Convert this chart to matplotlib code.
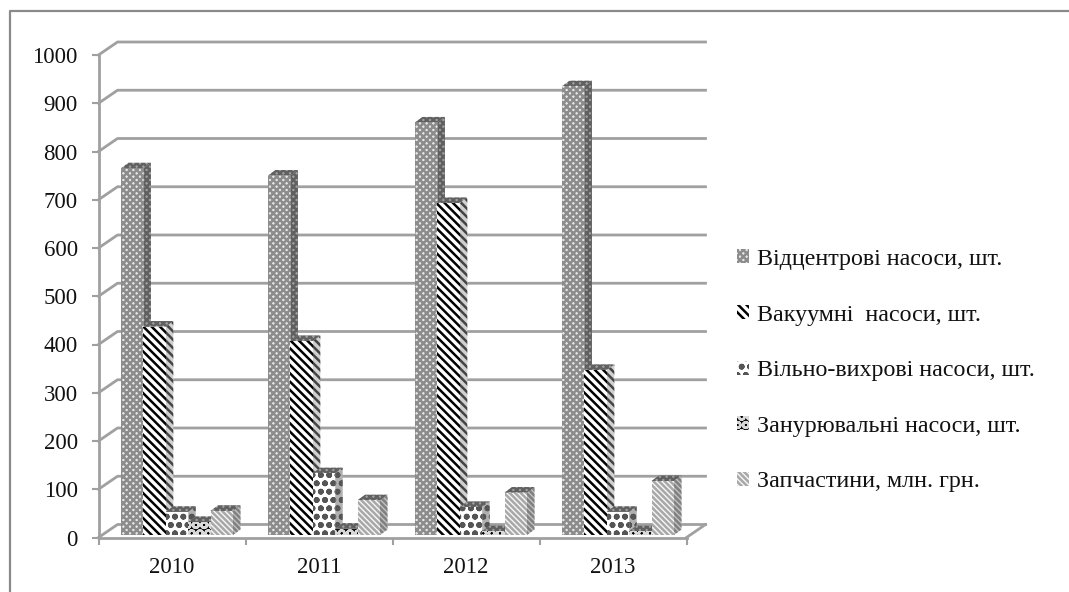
import numpy as np
import matplotlib
matplotlib.use('Agg')
import matplotlib.pyplot as plt
from matplotlib.lines import Line2D
from matplotlib.patches import Patch, Polygon

plt.rcParams['font.family'] = ['Liberation Serif', 'DejaVu Serif']
plt.rcParams['hatch.linewidth'] = 1.8

years = ['2010', '2011', '2012', '2013']
names = ['Відцентрові насоси, шт.', 'Вакуумні  насоси, шт.', 'Вільно-вихрові насоси, шт.',
         'Занурювальні насоси, шт.', 'Запчастини, млн. грн.']
vidcentrovi = [760, 745, 855, 930]
vakuumni = [432, 402, 688, 342]
vilno = [48, 128, 58, 48]
zanurni = [27, 13, 8, 8]
zapchastyny = [50, 72, 88, 112]
series = [vidcentrovi, vakuumni, vilno, zanurni, zapchastyny]

# face colour, hatch colour, hatch, side colour, side hatch colour
styles = [('#e8e8e8', '#8c8c8c', 'xxxxx', '#a0a0a0', '#606060'),
          ('white', 'black', '\\\\\\\\', '#d0d0d0', '#444444'),
          ('white', '#555555', 'oo', '#b0b0b0', '#555555'),
          ('#000000', '#d8d8d8', 'OO', '#3a3a3a', '#1c1c1c'),
          ('#f6f6f6', '#a8a8a8', '\\\\\\\\\\\\', '#c0c0c0', '#808080')]

fig = plt.figure(figsize=(10.69, 5.92), dpi=100)
ax = fig.add_axes([98.5/1069, 1-537.5/592, 588/1069, 482.5/592])
ax.set_xlim(0, 4)
ax.set_ylim(0, 1000)

# size of the 3d offset in data units
px_x = 4/588
px_y = 1000/482.5
wall_dx = 19*px_x
wall_dy = 13*px_y
grid_col = '#a0a0a0'

for v in range(0, 1001, 100):
    ax.plot([0, wall_dx, 4+wall_dx], [v, v+wall_dy, v+wall_dy], color=grid_col, lw=2, clip_on=False, zorder=1)
ax.plot([4, 4+wall_dx], [0, wall_dy], color=grid_col, lw=2, clip_on=False, zorder=1)

bar_w = 22.4*px_x
start = 22.5*px_x
depth_x = 7.5*px_x
depth_y = 5.5*px_y
base = 2.5*px_y

for i in range(4):
    for j, vals in enumerate(series):
        face, hc, hatch, side, side_hc = styles[j]
        x0 = i + start + j*bar_w
        v = vals[i]
        # side and top of the bar
        ax.add_patch(Polygon([(x0+bar_w, base), (x0+bar_w+depth_x, base+depth_y),
                              (x0+bar_w+depth_x, base+v+depth_y), (x0+bar_w, base+v)],
                             facecolor=side, edgecolor=side_hc, hatch=hatch, lw=0, clip_on=False, zorder=3+j))
        ax.add_patch(Polygon([(x0, base+v), (x0+depth_x, base+v+depth_y),
                              (x0+bar_w+depth_x, base+v+depth_y), (x0+bar_w, base+v)],
                             facecolor='#a0a0a0', edgecolor='#606060', hatch='xxxxx', lw=0, clip_on=False, zorder=3+j))
        ax.bar(x0, v, bar_w, bottom=base, align='edge', facecolor=face, edgecolor=hc, hatch=hatch,
               lw=0, zorder=3+j, clip_on=False)

for s in ['top', 'right']:
    ax.spines[s].set_visible(False)
for s in ['left', 'bottom']:
    ax.spines[s].set_color(grid_col)
    ax.spines[s].set_linewidth(2)

ax.set_yticks(range(0, 1001, 100))
ax.set_xticks(range(5))
ax.set_xticks(np.arange(4)+0.5, labels=years, minor=True)
ax.set_xticklabels([])
ax.tick_params(axis='both', which='major', direction='out', length=5, width=1.5, color=grid_col)
ax.tick_params(axis='y', labelsize=16.5, pad=10, labelcolor='#111111')
ax.tick_params(axis='x', which='minor', length=0, labelsize=16.5, pad=14, labelcolor='#111111')

handles = [Patch(facecolor=s[0], edgecolor=s[1], hatch=s[2], lw=0) for s in styles]
fig.legend(handles, names, loc='upper left', bbox_to_anchor=(737/1069, 1-249/592), frameon=False,
           fontsize=17.3, handlelength=0.52, handleheight=0.52, handletextpad=0.3,
           labelspacing=1.44, borderpad=0, borderaxespad=0, labelcolor='#111111')

# only the top and left edges of the chart frame are in the picture
fig.add_artist(Line2D([9.5/1069, 9.5/1069, 1], [0, 1-10.5/592, 1-10.5/592], transform=fig.transFigure,
                      color='#8a8a8a', lw=1.6))

fig.savefig('out.png', dpi=100)
